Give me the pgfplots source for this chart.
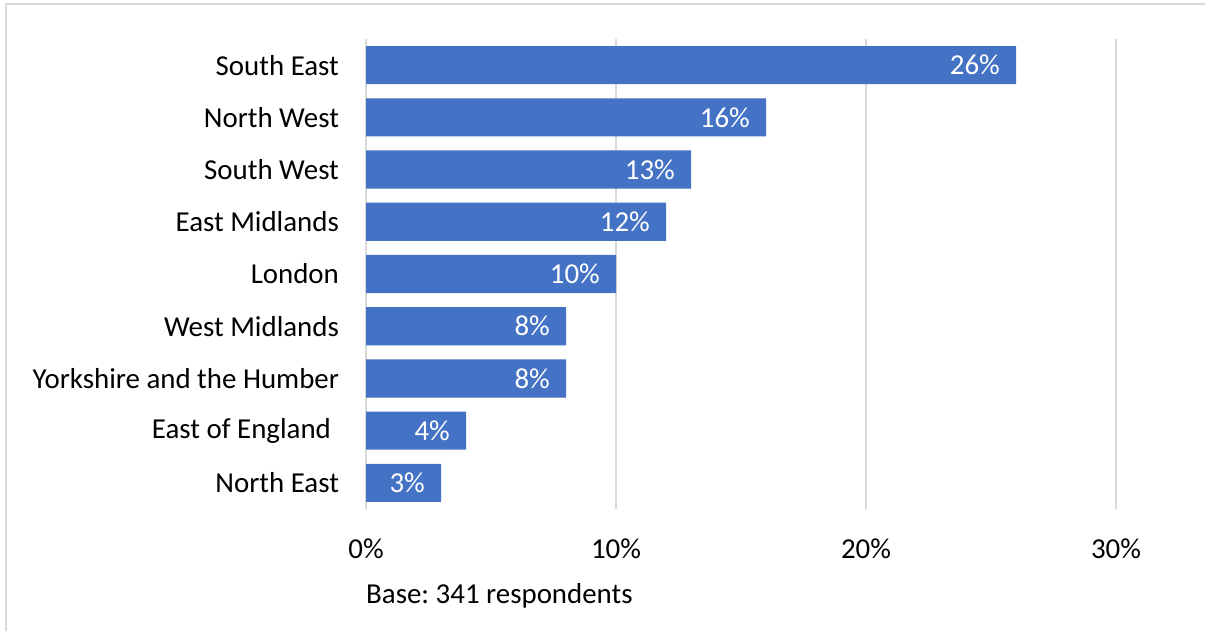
\documentclass[border=0pt]{standalone}
\usepackage{pgfplots}
\pgfplotsset{compat=1.18}
\usepackage{fontspec}
\setmainfont{Carlito}
\definecolor{barblue}{HTML}{4472C4}
\definecolor{gridgray}{HTML}{D9D9D9}
\begin{document}
\frenchspacing
\fontsize{29}{35}\selectfont
\begin{tikzpicture}[x=1bp,y=1bp]
\path[use as bounding box] (0,0) rectangle (1205,631);
\draw[gridgray, line width=1.5bp] (6,0) -- (6,627) -- (1205,627);
\begin{axis}[
  at={(366bp,122bp)}, anchor=south west, scale only axis,
  width=750bp, height=470bp,
  xmin=0, xmax=30, ymin=-0.5, ymax=8.5, y dir=reverse,
  enlargelimits=false,
  xbar, bar width=0.73, bar shift=0pt,
  axis line style={draw=none},
  tick style={draw=none},
  xmajorgrids, grid style={gridgray, line width=2bp},
  xtick={0,10,20,30}, xticklabels={0\%,10\%,20\%,30\%},
  xticklabel style={yshift=-20bp},
  ytick={0,...,8},
  yticklabels={South East,North West,South West,East Midlands,London,West Midlands,Yorkshire and the Humber,East of England\kern8bp,North East},
  yticklabel style={xshift=-13bp},
  /pgf/number format/assume math mode=true,
  nodes near coords={\pgfmathprintnumber{\pgfplotspointmeta}\%},
  point meta=x,
  every node near coord/.append style={white, anchor=east, xshift=-16bp, inner xsep=0pt},
  clip=false,
]
\addplot[fill=barblue, draw=none] coordinates {
 (26,0) (16,1) (13,2) (12,3) (10,4) (8,5) (8,6) (4,7) (3,8)
};
\end{axis}
\node[anchor=west, inner sep=0pt] at (366,35) {Base: 341 respondents};
\end{tikzpicture}
\end{document}
